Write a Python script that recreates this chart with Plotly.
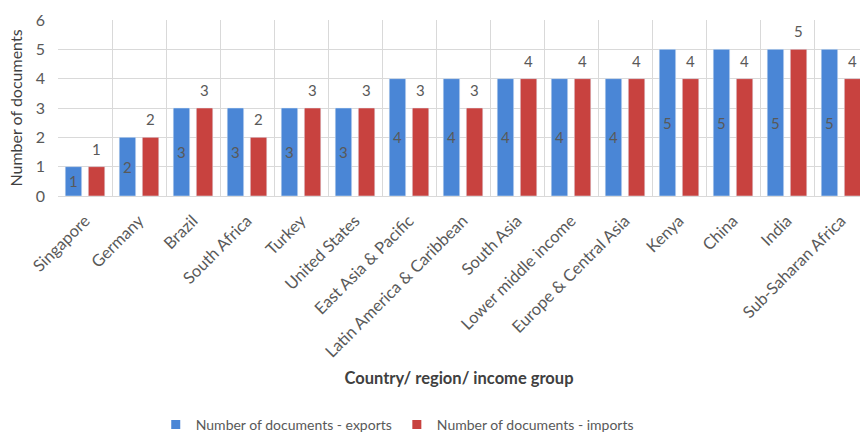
import plotly.graph_objects as go

# Number of documents required to trade, by country / region / income group
categories = [
    "Singapore", "Germany", "Brazil", "South Africa", "Turkey", "United States",
    "East Asia & Pacific", "Latin America & Caribbean", "South Asia",
    "Lower middle income", "Europe & Central Asia", "Kenya", "China", "India",
    "Sub-Saharan Africa",
]
exports_docs = [1, 2, 3, 3, 3, 3, 4, 4, 4, 4, 4, 5, 5, 5, 5]
imports_docs = [1, 2, 3, 2, 3, 3, 3, 3, 4, 4, 4, 4, 4, 5, 4]
series_names = ["Number of documents - exports", "Number of documents - imports"]

BLUE = "#4A86D6"
RED = "#C8423F"
GREY = "#595959"
DARK = "#404040"
GRID = "#D9D9D9"
FONT = "Lato"

fig = go.Figure()
fig.add_trace(go.Bar(
    x=categories, y=exports_docs, name=series_names[0],
    marker_color=BLUE, text=exports_docs, textposition="inside",
    insidetextanchor="middle", textangle=0,
    textfont=dict(color=GREY, size=15, family=FONT),
    showlegend=False,
))
fig.add_trace(go.Bar(
    x=categories, y=imports_docs, name=series_names[1],
    marker_color=RED, showlegend=False,
))

# small square legend keys
for name, color in zip(series_names, [BLUE, RED]):
    fig.add_trace(go.Scatter(
        x=[None], y=[None], mode="markers", name=name,
        marker=dict(symbol="square", size=9, color=color),
    ))

# value labels above the import bars
for cat, val in zip(categories, imports_docs):
    fig.add_annotation(
        x=cat, y=val, text=str(val), showarrow=False,
        xshift=11.5, yshift=18, yanchor="middle",
        font=dict(color=GREY, size=15, family=FONT),
    )

n = len(categories)
fig.update_layout(
    width=860, height=441,
    margin=dict(l=58, r=0, t=20, b=241),
    paper_bgcolor="white", plot_bgcolor="white",
    font=dict(family=FONT, color=GREY, size=14),
    barmode="group", bargap=0.145, bargroupgap=0.286,
    showlegend=True,
    legend=dict(
        orientation="h", x=0.423, xanchor="center", y=-1.30, yanchor="middle",
        font=dict(size=14, color=GREY, family=FONT), itemwidth=30,
        tracegroupgap=0,
    ),
)
fig.update_xaxes(
    type="category", range=[-0.5, n - 0.5 - 8 / 54], automargin=False,
    tickson="boundaries", showgrid=True, gridcolor=GRID, gridwidth=1,
    tickangle=-45, ticks="", ticklabelstandoff=11,
    tickfont=dict(size=16.5, color=GREY, family=FONT),
    showline=False,
    title=dict(text="Country/ region/ income group", standoff=12,
               font=dict(size=16.5, color=DARK, family=FONT, weight="bold")),
)
fig.update_yaxes(
    range=[0, 6], dtick=1, showgrid=True, gridcolor=GRID, gridwidth=1,
    zeroline=True, zerolinecolor=GRID, zerolinewidth=1, automargin=False,
    ticks="", ticklabelstandoff=12,
    tickfont=dict(size=16, color=GREY, family=FONT),
    title=dict(text="Number of documents", standoff=9,
               font=dict(size=16, color=DARK, family=FONT)),
)

fig.write_html("out.html")
